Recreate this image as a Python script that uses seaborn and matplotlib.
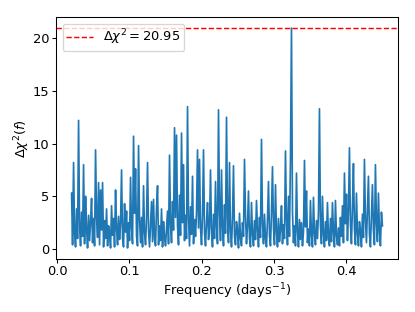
import numpy as np
import matplotlib
matplotlib.use('Agg')
import matplotlib.pyplot as plt
import seaborn as sns

# periodogram values, evenly spaced in frequency
freq_min = 0.02
freq_max = 0.45
dchi2 = [
    5.3, 0.4, 8.2, 1.5, 0.2, 3.8, 1.0, 12.2, 2.1, 0.3,
    3.5, 1.2, 8.0, 0.5, 5.0, 2.0, 0.1, 3.2, 0.8, 2.6,
    4.8, 0.6, 2.9, 0.3, 9.4, 3.0, 1.1, 6.3, 0.4, 5.6,
    1.8, 6.3, 0.2, 2.7, 1.0, 3.8, 0.3, 2.2, 1.5, 0.1,
    4.1, 1.3, 2.9, 0.2, 5.6, 1.9, 0.4, 3.1, 0.9, 2.4,
    7.5, 1.0, 0.2, 4.3, 1.6, 3.6, 0.1, 2.5, 0.8, 6.8,
    2.0, 0.5, 10.7, 3.4, 7.6, 1.2, 0.3, 9.8, 2.8, 0.6,
    3.0, 0.2, 6.0, 1.5, 0.4, 2.9, 8.2, 1.7, 0.2, 2.4,
    4.5, 0.7, 4.7, 1.0, 0.3, 3.9, 6.0, 0.4, 2.2, 0.8,
    3.8, 0.2, 2.6, 1.1, 0.3, 2.0, 3.6, 0.5, 8.9, 2.3,
    0.6, 4.5, 1.8, 11.5, 3.0, 10.8, 2.2, 0.4, 5.1, 1.3,
    11.0, 2.5, 8.0, 0.8, 3.2, 1.0, 13.5, 2.9, 0.3, 4.0,
    1.4, 6.9, 0.5, 2.8, 1.2, 3.5, 9.4, 2.0, 8.5, 2.0,
    0.4, 3.2, 9.4, 1.6, 0.3, 2.5, 4.4, 0.9, 2.0, 7.5,
    1.5, 0.2, 3.3, 1.0, 6.4, 2.1, 0.5, 13.2, 3.6, 0.8,
    7.5, 1.9, 0.3, 4.2, 1.5, 12.5, 2.8, 0.6, 8.2, 1.7,
    0.2, 3.0, 7.9, 1.2, 0.4, 2.6, 1.7, 0.1, 3.4, 1.0,
    0.3, 2.5, 1.2, 8.5, 3.1, 0.5, 2.2, 5.5, 1.0, 0.2,
    4.4, 1.4, 0.3, 2.7, 0.9, 4.6, 1.8, 0.2, 3.0, 1.1,
    10.4, 2.4, 0.5, 3.3, 1.0, 0.2, 2.8, 6.4, 1.3, 0.3,
    3.5, 7.8, 2.0, 0.4, 6.1, 1.6, 0.2, 2.9, 0.7, 1.9,
    4.1, 0.5, 2.3, 1.0, 9.3, 2.6, 0.4, 5.0, 1.2, 8.7,
    20.95, 3.5, 0.6, 2.2, 0.3, 7.2, 1.7, 0.2, 2.8, 0.9,
    2.5, 0.3, 1.6, 8.4, 2.1, 5.5, 0.6, 1.9, 0.3, 4.6,
    1.3, 0.2, 4.9, 1.5, 0.4, 2.7, 1.0, 3.4, 13.3, 2.2,
    0.5, 5.0, 1.4, 0.2, 2.6, 0.8, 4.4, 1.1, 0.3, 2.9,
    0.7, 4.4, 1.6, 0.2, 4.6, 1.3, 0.4, 2.0, 0.3, 3.0,
    1.2, 4.1, 0.6, 7.2, 2.4, 5.2, 0.8, 3.6, 9.6, 2.3,
    0.5, 4.0, 8.1, 1.9, 0.4, 5.3, 1.5, 0.3, 2.6, 1.7,
    0.2, 3.3, 1.1, 8.5, 2.8, 0.6, 3.9, 6.9, 1.4, 0.2,
    3.1, 6.1, 1.8, 0.4, 8.0, 2.5, 0.7, 5.3, 1.6, 0.3,
    3.5, 2.2,
]
freq = np.linspace(freq_min, freq_max, len(dchi2))
threshold = max(dchi2)

dpi = 94
fig, ax = plt.subplots(figsize=(415 / dpi, 312 / dpi), dpi=dpi)
fig.subplots_adjust(left=0.135, right=0.959, bottom=0.17, top=0.945)

sns.lineplot(x=freq, y=dchi2, ax=ax, color='tab:blue', linewidth=1.3)
ax.axhline(threshold, color='r', linestyle='--', linewidth=1.1,
           label=r'$\Delta\chi^2 = {:.2f}$'.format(threshold))

ax.set_xlabel(r'Frequency (days$^{-1}$)', fontsize=10, labelpad=2)
ax.set_ylabel(r'$\Delta\chi^2(f)$', fontsize=10, labelpad=1)
ax.set_yticks([0, 5, 10, 15, 20])
ax.tick_params(labelsize=10, length=3, pad=2)
ax.legend(loc='upper left', fontsize=10, borderpad=0.3)

fig.savefig('out.png', dpi=dpi)
